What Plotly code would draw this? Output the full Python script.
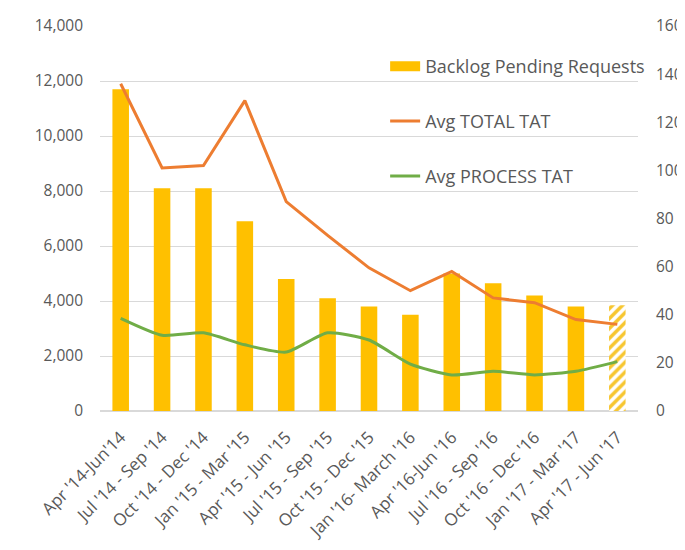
import plotly.graph_objects as go

categories = ["Apr '14-Jun'14", "Jul '14 - Sep '14", "Oct '14 - Dec '14", "Jan '15 - Mar '15",
              "Apr '15 - Jun '15", "Jul '15 - Sep '15", "Oct '15 - Dec '15", "Jan '16- March '16",
              "Apr '16-Jun '16", "Jul '16 - Sep '16", "Oct '16 - Dec '16", "Jan '17 - Mar '17",
              "Apr '17 - Jun '17"]
backlog = [11700, 8100, 8100, 6900, 4800, 4100, 3800, 3500, 5000, 4650, 4200, 3800, 3850]
total_tat = [136, 101, 102, 129, 87, 73, 59.5, 50, 58, 47, 45, 38, 36]
process_tat = [38.5, 31.5, 32.5, 27.5, 24.5, 32.5, 29.5, 19.5, 15, 16.5, 15, 16.5, 20.5]
bar_patterns = [""] * 12 + ["/"]

GOLD = "#FFC000"
ORANGE = "#ED7D31"
GREEN = "#70AD47"
TXT = "#595959"
FONT = "Open Sans"

fig = go.Figure()
fig.add_trace(go.Bar(
    x=categories, y=backlog, name="Backlog Pending Requests",
    marker=dict(color=GOLD, line=dict(width=0),
                pattern=dict(shape=bar_patterns, fgcolor="#F7C62F", bgcolor="white",
                             size=7, solidity=0.5, fillmode="replace")),
    width=0.4, legendgroup="a", showlegend=False, yaxis="y",
))
# legend-only proxy so the bar legend key is drawn as a wide block like the original
fig.add_trace(go.Scatter(
    x=[None], y=[None], name="Backlog Pending Requests", mode="lines",
    line=dict(color=GOLD, width=11), legendgroup="a", yaxis="y",
))
fig.add_trace(go.Scatter(
    x=categories, y=total_tat, name="Avg TOTAL TAT", mode="lines",
    line=dict(color=ORANGE, width=3), yaxis="y2", legendgroup="b",
))
fig.add_trace(go.Scatter(
    x=categories, y=process_tat, name="Avg PROCESS TAT", mode="lines",
    line=dict(color=GREEN, width=3, shape="spline", smoothing=0.6), yaxis="y2", legendgroup="c",
))

fig.update_layout(
    width=677, height=542,
    margin=dict(l=92, r=47, t=18, b=139, autoexpand=False),
    paper_bgcolor="white", plot_bgcolor="white",
    font=dict(family=FONT, size=15.5, color=TXT),
    showlegend=True,
    legend=dict(x=0.53, y=0.943, xanchor="left", yanchor="top",
                bgcolor="rgba(0,0,0,0)", font=dict(size=18, color=TXT),
                traceorder="grouped", tracegroupgap=28.5, itemwidth=30),
    xaxis=dict(tickangle=-45, showgrid=False, showline=False, ticks="", automargin=False,
               ticklabelstandoff=12, tickfont=dict(size=17, color=TXT)),
    yaxis=dict(range=[0, 14000], dtick=2000, tickformat=",", showgrid=True,
               gridcolor="#D9D9D9", gridwidth=1, zeroline=True, zerolinecolor="#D9D9D9",
               showline=False, ticks="", ticklabelstandoff=16, automargin=False,
               tickfont=dict(size=15.5, color=TXT)),
    yaxis2=dict(range=[0, 160], dtick=20, overlaying="y", side="right", showgrid=False,
                zeroline=False, showline=False, ticks="", ticklabelstandoff=17, automargin=False,
                tickfont=dict(size=15.5, color=TXT)),
    bargap=0.6,
)

fig.write_html("out.html")
